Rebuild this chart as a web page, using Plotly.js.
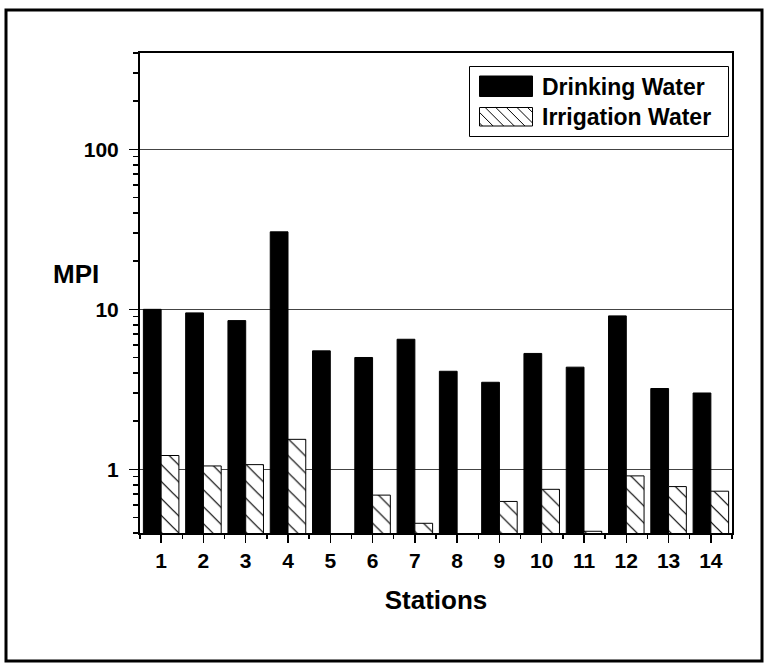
<!DOCTYPE html>
<html>
<head>
<meta charset="utf-8">
<script src="https://cdn.plot.ly/plotly-3.0.1.min.js"></script>
<style>
  html, body { margin: 0; padding: 0; background: #fff; }
  #chart { width: 768px; height: 664px; }
</style>
</head>
<body>
<div id="chart"></div>
<script>
// ---- data ----
var stations = [1, 2, 3, 4, 5, 6, 7, 8, 9, 10, 11, 12, 13, 14];
var drinkingWater = [10.0, 9.5, 8.5, 30.5, 5.5, 5.0, 6.5, 4.1, 3.5, 5.3, 4.35, 9.1, 3.2, 3.0];
var irrigationWater = [1.22, 1.05, 1.07, 1.54, 0.38, 0.69, 0.46, 0.38, 0.63, 0.75, 0.41, 0.91, 0.78, 0.73];
var seriesNames = ['Drinking Water', 'Irrigation Water'];
var yTickVals = [1, 10, 100];
var yTickText = ['1', '10', '100'];

// ---- layout geometry (pixels) ----
var W = 768, H = 664;
var M = { l: 140, r: 36, t: 53, b: 131 };
var PW = W - M.l - M.r, PH = H - M.t - M.b;
function px(x) { return (x - M.l) / PW; }
function py(y) { return (H - M.b - y) / PH; }

var FONT = 'Liberation Sans, Arial, sans-serif';

var traces = [
  {
    type: 'bar', x: stations, y: drinkingWater, name: seriesNames[0],
    marker: { color: '#000', line: { color: '#000', width: 1 } }
  },
  {
    type: 'bar', x: stations, y: irrigationWater, name: seriesNames[1],
    marker: {
      color: '#fff',
      line: { color: '#000', width: 1 },
      pattern: { shape: '\\', size: 12, solidity: 0.1, fgcolor: '#000', bgcolor: '#fff', fillmode: 'replace' }
    }
  }
];

var shapes = [];
var annotations = [];

// outer frame
shapes.push({ type: 'rect', xref: 'paper', yref: 'paper',
  x0: px(6), x1: px(762), y0: py(10), y1: py(661),
  line: { color: '#000', width: 3 }, fillcolor: 'rgba(0,0,0,0)', layer: 'above' });

// custom legend box
var LB = { x0: 469.5, x1: 728.5, y0: 66.5, y1: 136.5 };
shapes.push({ type: 'rect', xref: 'paper', yref: 'paper',
  x0: px(LB.x0), x1: px(LB.x1), y0: py(LB.y0), y1: py(LB.y1),
  line: { color: '#000', width: 1 }, fillcolor: '#fff', layer: 'above' });

// swatch 1: solid
var S1 = { x0: 479.5, x1: 532.5, y0: 76, y1: 96.5 };
shapes.push({ type: 'rect', xref: 'paper', yref: 'paper',
  x0: px(S1.x0), x1: px(S1.x1), y0: py(S1.y0), y1: py(S1.y1),
  line: { color: '#000', width: 1 }, fillcolor: '#000', layer: 'above' });

// swatch 2: hatched
var S2 = { x0: 479.5, x1: 532.5, y0: 107.5, y1: 126 };
shapes.push({ type: 'rect', xref: 'paper', yref: 'paper',
  x0: px(S2.x0), x1: px(S2.x1), y0: py(S2.y0), y1: py(S2.y1),
  line: { color: '#000', width: 1 }, fillcolor: '#fff', layer: 'above' });
(function () {
  var h = S2.y1 - S2.y0, sp = 10.6;
  for (var s = S2.x0 - h + 3; s < S2.x1; s += sp) {
    var xa = s, ya = S2.y0, xb = s + h, yb = S2.y1;
    if (xa < S2.x0) { ya = S2.y0 + (S2.x0 - xa); xa = S2.x0; }
    if (xb > S2.x1) { yb = S2.y1 - (xb - S2.x1); xb = S2.x1; }
    if (xb - xa < 1) continue;
    shapes.push({ type: 'line', xref: 'paper', yref: 'paper',
      x0: px(xa), x1: px(xb), y0: py(ya), y1: py(yb),
      line: { color: '#000', width: 1 }, layer: 'above' });
  }
})();

annotations.push({ xref: 'paper', yref: 'paper', x: px(540), y: py(86.5),
  xanchor: 'left', yanchor: 'middle', showarrow: false, text: '<b>' + seriesNames[0] + '</b>',
  font: { family: FONT, size: 23, color: '#000' } });
annotations.push({ xref: 'paper', yref: 'paper', x: px(540), y: py(117),
  xanchor: 'left', yanchor: 'middle', showarrow: false, text: '<b>' + seriesNames[1] + '</b>',
  font: { family: FONT, size: 23, color: '#000' } });

// horizontal y-axis title "MPI"
annotations.push({ xref: 'paper', yref: 'paper', x: px(76), y: py(273.5),
  xanchor: 'center', yanchor: 'middle', showarrow: false, text: '<b>MPI</b>',
  font: { family: FONT, size: 26, color: '#000' } });

var layout = {
  width: W, height: H,
  margin: M,
  paper_bgcolor: '#fff', plot_bgcolor: '#fff',
  showlegend: false,
  barmode: 'group', bargap: 0.16, bargroupgap: 0,
  font: { family: FONT, color: '#000' },
  xaxis: {
    type: 'linear', range: [0.5, 14.5],
    tickmode: 'array', tickvals: stations, ticktext: stations.map(String),
    ticks: 'outside', ticklen: 8, tickwidth: 1.5, tickcolor: '#000',
    minor: { tick0: 0.5, dtick: 1, ticks: 'outside', ticklen: 4, tickwidth: 1.5, tickcolor: '#000', showgrid: false },
    showgrid: false, zeroline: false,
    showline: true, linecolor: '#000', linewidth: 2, mirror: true,
    tickfont: { family: FONT, size: 21, color: '#000', weight: 'bold' },
    title: { text: '<b>Stations</b>', font: { family: FONT, size: 26, color: '#000' }, standoff: 20 }
  },
  yaxis: {
    type: 'log', range: [Math.log10(0.4), Math.log10(400)],
    tickmode: 'array', tickvals: yTickVals, ticktext: yTickText,
    ticks: 'outside', ticklen: 9, tickwidth: 1.5, tickcolor: '#000',
    minor: { dtick: 'D1', ticks: 'outside', ticklen: 5, tickwidth: 1.5, tickcolor: '#000', showgrid: false },
    showgrid: true, gridcolor: '#444', gridwidth: 1,
    zeroline: false,
    showline: true, linecolor: '#000', linewidth: 2, mirror: true,
    tickfont: { family: FONT, size: 21, color: '#000', weight: 'bold' },
    ticklabelstandoff: 6
  },
  shapes: shapes,
  annotations: annotations
};

Plotly.newPlot('chart', traces, layout, { displayModeBar: false, staticPlot: true });
</script>
</body>
</html>
